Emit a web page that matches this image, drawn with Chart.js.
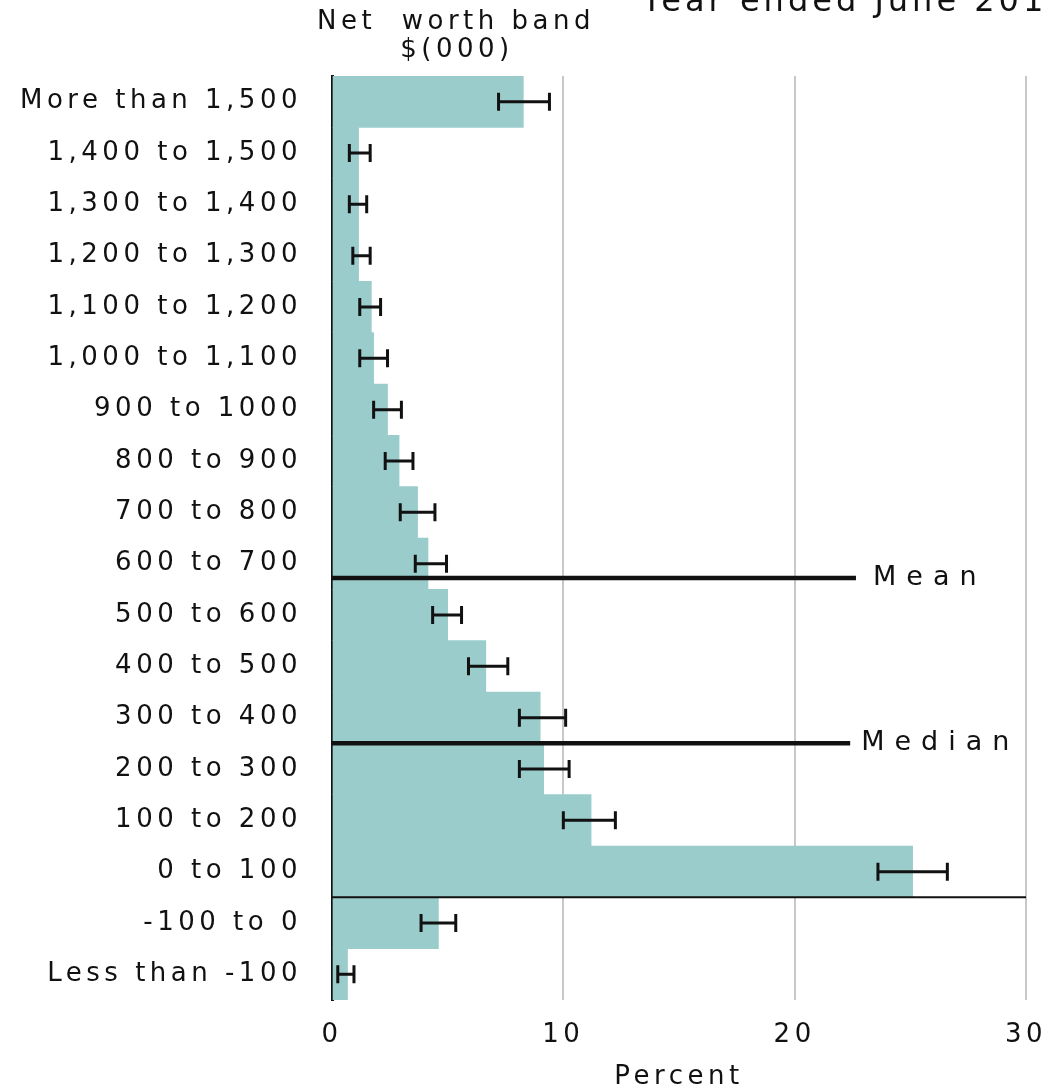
<!DOCTYPE html>
<html>
<head>
<meta charset="utf-8">
<script src="https://cdn.jsdelivr.net/npm/chart.js@4.4.1/dist/chart.umd.min.js"></script>
<style>
  html, body { margin: 0; padding: 0; background: #fff; }
  canvas { display: block; }
</style>
</head>
<body>
<canvas id="netWorth" width="1046" height="1090"></canvas>
<script>
const bands = [
  'More than 1,500', '1,400 to 1,500', '1,300 to 1,400', '1,200 to 1,300',
  '1,100 to 1,200', '1,000 to 1,100', '900 to 1000', '800 to 900',
  '700 to 800', '600 to 700', '500 to 600', '400 to 500', '300 to 400',
  '200 to 300', '100 to 200', '0 to 100', '-100 to 0', 'Less than -100',
];
const percent = [8.27, 1.15, 1.15, 1.15, 1.7, 1.8, 2.4, 2.9, 3.7, 4.15, 5.0, 6.65, 9.0, 9.15, 11.2, 25.1, 4.6, 0.67];
const errLow  = [7.2, 0.75, 0.75, 0.9, 1.2, 1.2, 1.8, 2.3, 2.95, 3.6, 4.35, 5.9, 8.1, 8.1, 10.0, 23.6, 3.85, 0.25];
const errHigh = [9.4, 1.65, 1.5, 1.65, 2.1, 2.4, 3.0, 3.5, 4.45, 4.95, 5.6, 7.6, 10.1, 10.25, 12.25, 26.6, 5.35, 0.95];
const xTicks = [0, 10, 20, 30];

// mean / median markers, position given in band index units
const refNames = ['Mean', 'Median'];
const refPos = [9.28, 12.5];
const refEnd = [22.65, 22.4];
const zeroPos = 15.5;

const FONT = "'DejaVu Sans', Verdana, sans-serif";
const SPACING = '4.5px';

const letterSpacing = {
  id: 'letterSpacing',
  beforeLayout(chart) { chart.ctx.letterSpacing = SPACING; },
  beforeDraw(chart) { chart.ctx.letterSpacing = SPACING; },
};

const errorBars = {
  id: 'errorBars',
  afterDatasetsDraw(chart) {
    const { ctx, scales: { x, y } } = chart;
    ctx.save();
    ctx.strokeStyle = '#111';
    ctx.lineWidth = 3;
    errLow.forEach((lo, i) => {
      const x0 = x.getPixelForValue(lo);
      const x1 = x.getPixelForValue(errHigh[i]);
      const yc = y.getPixelForValue(i);
      ctx.beginPath();
      ctx.moveTo(x0, yc); ctx.lineTo(x1, yc);
      ctx.moveTo(x0, yc - 9); ctx.lineTo(x0, yc + 9);
      ctx.moveTo(x1, yc - 9); ctx.lineTo(x1, yc + 9);
      ctx.stroke();
    });

    // zero line between positive and negative bands
    const yz = y.getPixelForValue(zeroPos);
    ctx.lineWidth = 2;
    ctx.beginPath();
    ctx.moveTo(x.getPixelForValue(0), yz);
    ctx.lineTo(x.getPixelForValue(30), yz);
    ctx.stroke();

    // mean and median
    ctx.lineWidth = 4.5;
    ctx.font = "27px 'DejaVu Sans', sans-serif";
    ctx.letterSpacing = '10px';
    ctx.fillStyle = '#111';
    ctx.textBaseline = 'middle';
    refNames.forEach((name, i) => {
      const yr = y.getPixelForValue(refPos[i]);
      const xe = x.getPixelForValue(refEnd[i]);
      ctx.beginPath();
      ctx.moveTo(x.getPixelForValue(0), yr);
      ctx.lineTo(xe, yr);
      ctx.stroke();
      ctx.fillText(name, xe + (i === 0 ? 17 : 11), yr);
    });
    ctx.restore();
  },
  afterDraw(chart) {
    const { ctx } = chart;
    ctx.save();
    ctx.fillStyle = '#111';
    ctx.letterSpacing = SPACING;
    ctx.font = '26px ' + FONT;
    ctx.textAlign = 'center';
    ctx.textBaseline = 'middle';
    ctx.fillText('Net  worth band', 456, 22);
    ctx.fillText('$(000)', 457, 50);
    ctx.textAlign = 'left';
    ctx.textBaseline = 'alphabetic';
    ctx.font = '32px ' + FONT;
    ctx.letterSpacing = '4px';
    ctx.fillText('Year ended June 2018', 642, 11);
    ctx.restore();
  },
};

new Chart(document.getElementById('netWorth').getContext('2d'), {
  type: 'bar',
  data: {
    labels: bands,
    datasets: [{
      data: percent,
      backgroundColor: '#9bcccc',
      borderWidth: 0,
      barPercentage: 1,
      categoryPercentage: 1,
    }],
  },
  options: {
    indexAxis: 'y',
    responsive: false,
    animation: false,
    devicePixelRatio: 1,
    layout: { padding: { top: 76, right: 0, bottom: 0, left: 0 } },
    plugins: {
      legend: { display: false },
      tooltip: { enabled: false },
    },
    scales: {
      y: {
        grid: { display: false, drawTicks: false },
        border: { display: true, color: '#111', width: 3 },
        ticks: {
          color: '#111',
          padding: 30,
          font: { family: FONT, size: 26 },
        },
        afterFit(scale) { scale.width = 332; },
      },
      x: {
        min: 0,
        max: 30,
        afterBuildTicks(scale) { scale.ticks = xTicks.map((v) => ({ value: v })); },
        grid: {
          drawTicks: false,
          color: (c) => (c.tick && c.tick.value === 0 ? 'rgba(0,0,0,0)' : '#c8c8c8'),
          lineWidth: 2,
        },
        border: { display: false },
        ticks: {
          color: '#111',
          padding: 20,
          font: { family: FONT, size: 26 },
        },
        title: {
          display: true,
          text: 'Percent',
          color: '#111',
          padding: { top: 0, bottom: 0 },
          font: { family: FONT, size: 26, lineHeight: 1 },
        },
        afterFit(scale) {
          scale.height = 90;
          scale.paddingLeft = 0;
          scale.paddingRight = 20;
        },
      },
    },
  },
  plugins: [letterSpacing, errorBars],
});
</script>
</body>
</html>
